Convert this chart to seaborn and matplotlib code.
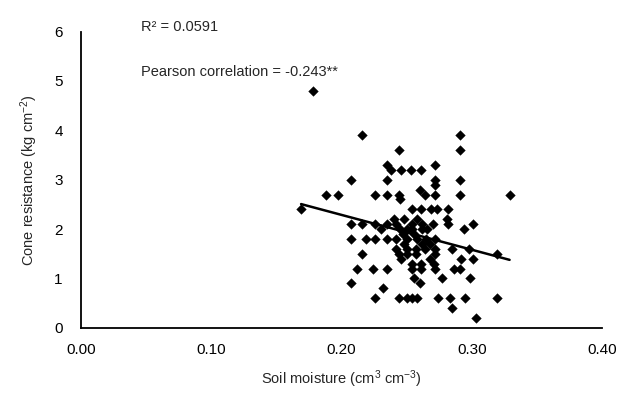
import matplotlib
matplotlib.use("Agg")
import matplotlib.pyplot as plt
import seaborn as sns
import numpy as np
import pandas as pd

# ---- data ----
soil_moisture = [
    0.169, 0.178, 0.188, 0.197, 0.207, 0.216, 0.207, 0.216, 0.226, 0.230,
    0.235, 0.207, 0.219, 0.226, 0.235, 0.216, 0.212, 0.224, 0.235, 0.207,
    0.232, 0.226, 0.244, 0.226, 0.235, 0.244, 0.235, 0.235, 0.238, 0.244,
    0.246, 0.253, 0.261, 0.272, 0.272, 0.291, 0.291, 0.291, 0.245, 0.260,
    0.264, 0.272, 0.272, 0.291, 0.329, 0.254, 0.261, 0.269, 0.273, 0.282,
    0.281, 0.282, 0.301, 0.294, 0.240, 0.242, 0.254, 0.262, 0.270, 0.245,
    0.250, 0.254, 0.262, 0.242, 0.250, 0.258, 0.265, 0.272, 0.242, 0.250,
    0.257, 0.264, 0.272, 0.285, 0.298, 0.319, 0.292, 0.301, 0.244, 0.250,
    0.257, 0.268, 0.272, 0.254, 0.261, 0.271, 0.254, 0.261, 0.272, 0.286,
    0.291, 0.277, 0.299, 0.256, 0.260, 0.250, 0.254, 0.258, 0.274, 0.283,
    0.295, 0.319, 0.285, 0.303, 0.246, 0.248, 0.258, 0.266, 0.247, 0.256,
    0.262, 0.268, 0.248,
]
cone_resistance = [
    2.4, 4.8, 2.7, 2.7, 3.0, 3.9, 2.1, 2.1, 2.1, 2.0,
    2.1, 1.8, 1.8, 1.8, 1.8, 1.5, 1.2, 1.2, 1.2, 0.9,
    0.8, 0.6, 0.6, 2.7, 2.7, 2.7, 3.0, 3.3, 3.2, 3.6,
    3.2, 3.2, 3.2, 3.3, 3.0, 3.9, 3.6, 3.0, 2.6, 2.8,
    2.7, 2.9, 2.7, 2.7, 2.7, 2.4, 2.4, 2.4, 2.4, 2.4,
    2.2, 2.1, 2.1, 2.0, 2.2, 2.1, 2.1, 2.1, 2.1, 2.0,
    2.0, 2.0, 2.0, 1.8, 1.8, 1.8, 1.8, 1.8, 1.6, 1.6,
    1.6, 1.6, 1.6, 1.6, 1.6, 1.5, 1.4, 1.4, 1.5, 1.5,
    1.5, 1.4, 1.5, 1.3, 1.3, 1.3, 1.2, 1.2, 1.2, 1.2,
    1.2, 1.0, 1.0, 1.0, 0.9, 0.6, 0.6, 0.6, 0.6, 0.6,
    0.6, 0.6, 0.4, 0.2, 1.4, 2.2, 2.2, 2.0, 1.9, 1.9,
    1.7, 1.7, 1.7,
]
# linear trend line
trend_slope = -7.06
trend_intercept = 3.70

x_ticks = [0.00, 0.10, 0.20, 0.30, 0.40]
x_tick_labels = ["0.00", "0.10", "0.20", "0.30", "0.40"]
y_ticks = [0, 1, 2, 3, 4, 5, 6]

r2_text = "R² = 0.0591"
pearson_text = "Pearson correlation = -0.243**"

df = pd.DataFrame({"x": soil_moisture, "y": cone_resistance})

sns.set_style("white")
plt.rcParams["font.family"] = ["Liberation Sans", "DejaVu Sans"]
plt.rcParams["mathtext.fontset"] = "custom"
plt.rcParams["mathtext.rm"] = "Liberation Sans"
plt.rcParams["mathtext.it"] = "Liberation Sans:italic"

fig = plt.figure(figsize=(6.22, 3.95), dpi=100)
ax = fig.add_axes([0.130, 0.170, 0.838, 0.750])

sns.scatterplot(data=df, x="x", y="y", marker="D", s=24, color="black",
                edgecolor="black", linewidth=0.3, ax=ax, zorder=3)

xs = np.array([min(soil_moisture), max(soil_moisture)])
sns.lineplot(x=xs, y=trend_intercept + trend_slope * xs, color="black",
             linewidth=1.8, ax=ax, zorder=4)

ax.set_xlim(0, 0.40)
ax.set_ylim(0, 6)
ax.set_xticks(x_ticks)
ax.set_xticklabels(x_tick_labels)
ax.set_yticks(y_ticks)

for s in ["top", "right"]:
    ax.spines[s].set_visible(False)
for s in ["left", "bottom"]:
    ax.spines[s].set_color("black")
    ax.spines[s].set_linewidth(1.3)

ax.tick_params(axis="both", direction="out", length=5, width=1.3,
               colors="black", labelsize=11, pad=6)
ax.tick_params(axis="y", pad=8)

ax.set_xlabel("Soil moisture (cm$^{3}$ cm$^{-3}$)", fontsize=10.5, labelpad=8)
ax.set_ylabel("Cone resistance (kg cm$^{-2}$)", fontsize=10.5, labelpad=10)

ax.text(0.046, 6.1, r2_text, fontsize=10.5, ha="left", va="center",
        clip_on=False)
ax.text(0.046, 5.18, pearson_text, fontsize=10.5, ha="left", va="center")

fig.savefig("out.png", dpi=100)
